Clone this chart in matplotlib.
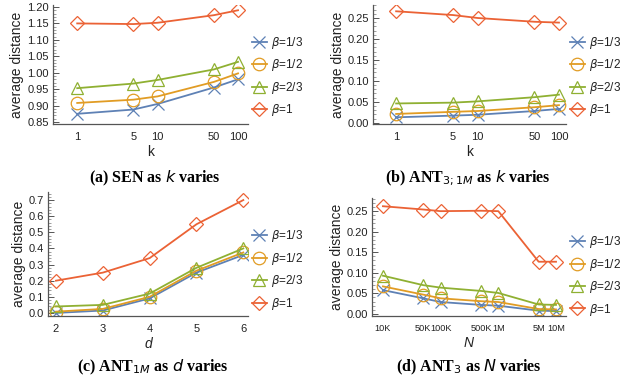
import matplotlib
matplotlib.use("Agg")
import matplotlib.pyplot as plt
from matplotlib.ticker import MultipleLocator, FixedLocator, NullLocator

plt.rcParams['font.family'] = ['Liberation Sans', 'DejaVu Sans']
plt.rcParams['mathtext.fontset'] = 'dejavusans'

# data
beta_labels = [r"$\beta$=1/3", r"$\beta$=1/2", r"$\beta$=2/3", r"$\beta$=1"]

k_vals = [1, 5, 10, 50, 100]
sen_k = [
    [0.875, 0.888, 0.905, 0.955, 0.980],
    [0.908, 0.918, 0.928, 0.972, 0.998],
    [0.953, 0.967, 0.978, 1.010, 1.033],
    [1.150, 1.148, 1.152, 1.175, 1.190],
]
ant31m_k = [
    [0.013, 0.017, 0.019, 0.028, 0.033],
    [0.021, 0.026, 0.028, 0.037, 0.042],
    [0.046, 0.048, 0.051, 0.061, 0.067],
    [0.266, 0.257, 0.250, 0.241, 0.239],
]

d_vals = [2, 3, 4, 5, 6]
ant1m_d = [
    [0.000, 0.015, 0.090, 0.250, 0.360],
    [0.008, 0.025, 0.100, 0.262, 0.375],
    [0.040, 0.050, 0.120, 0.280, 0.400],
    [0.200, 0.250, 0.340, 0.550, 0.700],
]

n_vals = [1e4, 5e4, 1e5, 5e5, 1e6, 5e6, 1e7]
n_labels = ["10K", "50K", "100K", "500K", "1M", "5M", "10M"]
ant3_n = [
    [0.058, 0.038, 0.029, 0.022, 0.020, 0.008, 0.007],
    [0.067, 0.047, 0.038, 0.031, 0.029, 0.012, 0.011],
    [0.093, 0.070, 0.064, 0.056, 0.051, 0.023, 0.022],
    [0.262, 0.254, 0.250, 0.251, 0.250, 0.127, 0.127],
]

colors = ['#5E81B5', '#E19C24', '#8FB032', '#EB6235']
markers = ['x', 'o', '^', 'D']
msizes = [9, 9, 9, 7.5]

W, H = 631, 384
fig = plt.figure(figsize=(W / 100, H / 100), dpi=100)


def box(l, t, r, b):
    return [l / W, 1 - b / H, (r - l) / W, (b - t) / H]


def panel(rect, x, ys, xlim, ylim, ymaj, ymin, xlabel, caption, cap_x, cap_y,
          logx=False, xticks=None, xticklabels=None, xlab_italic=False,
          xtick_size=8, leg_y=0.40):
    ax = fig.add_axes(rect)
    for i, y in enumerate(ys):
        ax.plot(x, y, color=colors[i], lw=1.3, marker=markers[i], ms=msizes[i],
                mfc='none', mec=colors[i], mew=0.9, label=beta_labels[i])
    if logx:
        ax.set_xscale('log')
    ax.set_xlim(*xlim)
    ax.set_ylim(*ylim)
    ax.yaxis.set_major_locator(MultipleLocator(ymaj))
    ax.yaxis.set_minor_locator(MultipleLocator(ymin))
    ax.xaxis.set_major_locator(FixedLocator(xticks))
    ax.xaxis.set_minor_locator(NullLocator())
    ax.set_xticklabels(xticklabels)
    ax.spines['top'].set_visible(False)
    ax.spines['right'].set_visible(False)
    for s in ['left', 'bottom']:
        ax.spines[s].set_color('#555555')
        ax.spines[s].set_linewidth(0.9)
    ax.tick_params(direction='in', length=4, width=0.7, colors='#555555',
                   labelcolor='#222222', labelsize=8, pad=3)
    ax.tick_params(which='minor', direction='in', length=2, width=0.5, colors='#777777')
    ax.tick_params(axis='x', length=0, pad=6, labelsize=xtick_size)
    ax.set_ylabel('average distance', fontsize=10, color='#222222', labelpad=2)
    ax.set_xlabel(xlabel, fontsize=10, color='#222222', labelpad=2,
                  style='italic' if xlab_italic else 'normal')
    leg = ax.legend(loc='center left', bbox_to_anchor=(1.0, leg_y), frameon=False,
                    fontsize=8.5, handlelength=1.3, labelspacing=0.55,
                    handletextpad=0.35, borderaxespad=0.2, borderpad=0.1)
    for t in leg.get_texts():
        t.set_color('#222222')
    fig.text(cap_x / W, 1 - cap_y / H, caption, ha='center', va='center',
             fontsize=11.5, fontweight='bold', family='Liberation Serif')
    return ax


panel(box(53, 5, 248, 124), k_vals, sen_k, (0.5, 133), (0.844, 1.206), 0.05, 0.01,
      'k', r"(a) SEN as $k$ varies", 155, 178, logx=True,
      xticks=k_vals, xticklabels=[str(v) for v in k_vals])

panel(box(373, 5, 566, 124), k_vals, ant31m_k, (0.52, 122), (-0.003, 0.281), 0.05, 0.01,
      'k', r"(b) ANT$_{3;1M}$ as $k$ varies", 468, 178, logx=True,
      xticks=k_vals, xticklabels=[str(v) for v in k_vals])

panel(box(48, 192, 248, 316), d_vals, ant1m_d, (1.83, 6.1), (-0.019, 0.75), 0.1, 0.02,
      'd', r"(c) ANT$_{1M}$ as $d$ varies", 153, 367,
      xticks=d_vals, xticklabels=[str(v) for v in d_vals], xlab_italic=True,
      leg_y=0.37)

panel(box(372, 198, 566, 316), n_vals, ant3_n, (6460, 1.49e7), (-0.005, 0.282), 0.05, 0.01,
      'N', r"(d) ANT$_{3}$ as $N$ varies", 469, 367, logx=True,
      xticks=n_vals, xticklabels=n_labels, xlab_italic=True, xtick_size=6.6,
      leg_y=0.34)

fig.savefig('out.png', dpi=100)
